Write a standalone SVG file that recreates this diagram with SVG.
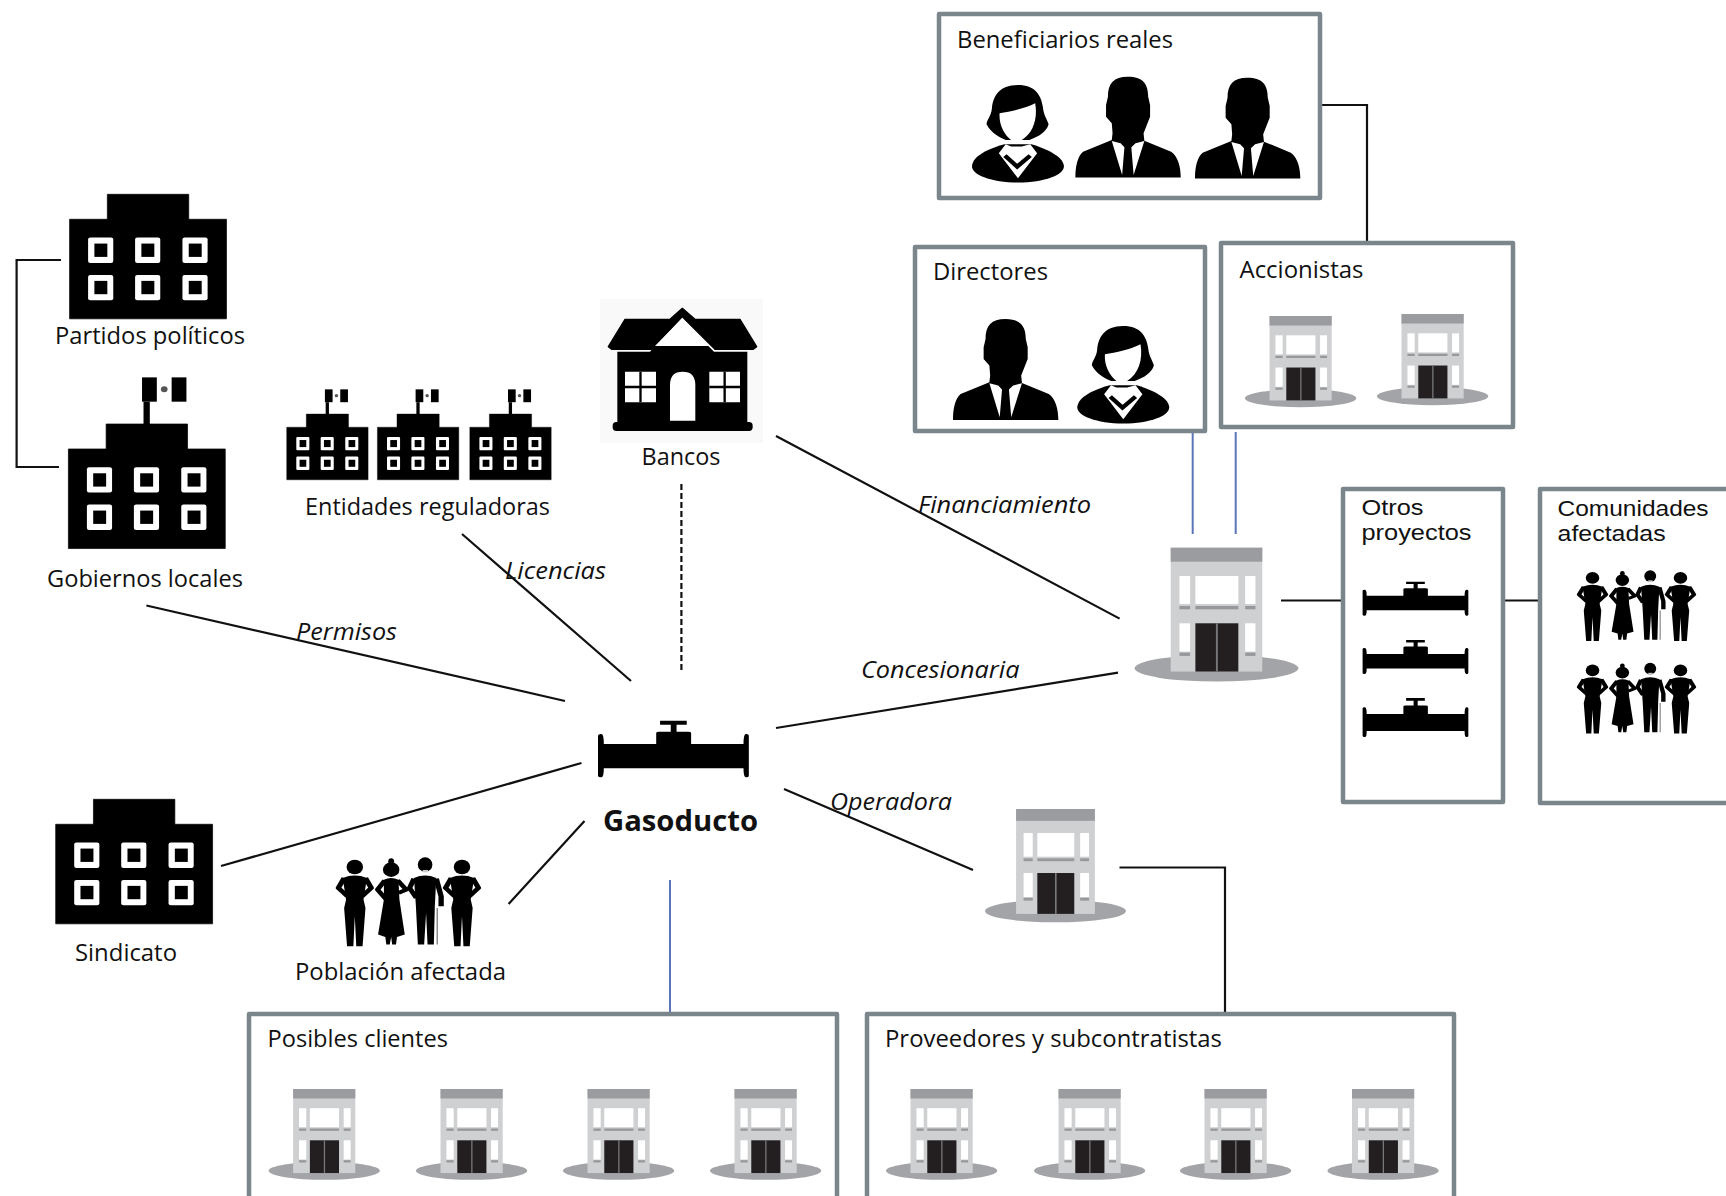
<svg xmlns="http://www.w3.org/2000/svg" xmlns:xlink="http://www.w3.org/1999/xlink" width="1726" height="1196" viewBox="0 0 1726 1196">
<style>
text{font-family:"Open Sans","Noto Sans","Liberation Sans",sans-serif;font-size:23px;fill:#111}
text.tight{font-family:"Liberation Sans",sans-serif;font-size:21.500px}
.lab{font-style:italic}
.bold{font-weight:700;font-size:28px}
.box{fill:#fff;stroke:#7a868b;stroke-width:4.5;stroke-linejoin:round}
.ln{fill:none;stroke:#111;stroke-width:2.2}
.blue{fill:none;stroke:#5a76b8;stroke-width:2}
.arm{fill:none;stroke:#000;stroke-width:11;stroke-linejoin:round}
</style>
<defs>
<g id="corp">
<ellipse cx="215.500" cy="362" rx="215.500" ry="40" fill="#a3a4a7"/>
<rect x="95" y="0" width="241" height="372" fill="#cfd0d2"/>
<rect x="95" y="0" width="241" height="42" fill="#9b9c9f"/>
<rect x="118" y="85" width="28" height="84" fill="#fff"/><rect x="160" y="85" width="113" height="84" fill="#fff"/><rect x="291" y="85" width="27" height="84" fill="#fff"/>
<rect x="118" y="175" width="28" height="10" fill="#97989b"/><rect x="160" y="175" width="113" height="10" fill="#97989b"/><rect x="291" y="175" width="27" height="10" fill="#97989b"/>
<rect x="118" y="227" width="28" height="85" fill="#fff"/><rect x="291" y="227" width="27" height="85" fill="#fff"/>
<rect x="118" y="315" width="28" height="10" fill="#97989b"/><rect x="291" y="315" width="27" height="10" fill="#97989b"/>
<rect x="160" y="227" width="113" height="145" fill="#231f20"/><rect x="214" y="227" width="5" height="145" fill="#77787b"/>
</g>
<g id="inst">
<path d="M102 0H322V75H424V374H0V75H102Z" fill="#000" stroke="#000" stroke-width="2" stroke-linejoin="round"/>
<g id="win"><rect x="50" y="130" width="68" height="76" rx="6" fill="#fff"/><rect x="67" y="148" width="35" height="40" fill="#000"/></g>
<use xlink:href="#win" x="127"/><use xlink:href="#win" x="255"/>
<use xlink:href="#win" y="112"/><use xlink:href="#win" x="127" y="112"/><use xlink:href="#win" x="255" y="112"/>
</g>
<g id="flag">
<rect x="203" y="-67" width="17" height="67" fill="#000"/><rect x="199" y="-140" width="40" height="73" fill="#000"/><rect x="279" y="-140" width="40" height="73" fill="#000"/><circle cx="259" cy="-104" r="9" fill="#555"/>
</g>
<path id="pipe" d="M0 45Q0 40 6 40H7Q12 40 12 70H120V37Q120 33 126 33H186Q192 33 192 37V70H300Q300 40 305 40H306Q311 40 311 45V165Q311 170 306 170H305Q300 170 300 143H12Q12 170 7 170H6Q0 170 0 165ZM150 33V12H128V0H183V12H162V33Z" fill="#000"/>
<g id="man">
<path d="M137 0C100 0 85 20 85 60L80 85V120L95 140L97 170L95 190L20 225C5 240 0 270 0 303H275C275 270 268 240 250 225L180 192L178 170L195 120V85L190 60C190 20 175 0 137 0Z" fill="#000"/>
<path d="M95 193L122 295L128 212L118 200ZM180 193L152 295L146 212L157 200Z" fill="#fff"/>
</g>
<g id="woman">
<path d="M120 0C70 0 55 35 52 70C50 95 38 105 38 118C50 145 75 160 88 165H150C175 155 195 140 200 118C195 100 187 90 185 65C180 30 165 0 120 0Z" fill="#000"/>
<path d="M72 85C100 80 140 70 165 55C172 100 160 145 130 165V185H102V165C85 150 70 120 72 85Z" fill="#fff"/>
<path d="M85 178C30 195 0 220 0 245C0 270 50 293 120 293C190 293 240 270 240 245C240 220 205 195 155 178Z" fill="#000"/>
<path d="M70 205L88 178L102 185H130L152 178L170 205L120 280Z" fill="#fff"/>
<path d="M86 212L118 245L152 212" fill="none" stroke="#000" stroke-width="12"/>
</g>
<g id="people">
<g id="pm" transform="translate(-630 -472)">
<ellipse cx="670" cy="502" rx="17" ry="22" fill="#000"/>
<path d="M645 535Q670 520 695 535L688 600L692 625L686 740H673L670 650L667 740H654L648 625L652 600Z" fill="#000"/>
<path class="arm" d="M648 535L636 565L655 590M692 535L704 565L685 590"/>
</g>
<g transform="translate(-630 -472)">
<ellipse cx="745" cy="510" rx="17" ry="22" fill="#000"/><ellipse cx="745" cy="485" rx="6" ry="9" fill="#000"/>
<path d="M730 540Q745 530 760 540L762 600L773 705L757 712L755 735H747L745 712L742 735H735L733 712L718 705L730 600Z" fill="#000"/>
<path class="arm" d="M732 542L717 570L735 600M758 542L776 570L760 580"/>
<ellipse cx="815" cy="495" rx="15" ry="22" fill="#000"/><rect x="810" y="511" width="11" height="7" fill="#ccc"/>
<path d="M792 535Q815 520 838 535L835 620L833 735H820L817 640L813 735H800L796 620Z" fill="#000"/>
<path class="arm" d="M792 537L783 565L797 595M838 537L848 590V620"/>
<path d="M840 625V735" stroke="#888" stroke-width="3" fill="none"/>
</g>
<use xlink:href="#pm" x="221"/>
</g>
</defs>

<g id="connectors">
<path class="ln" d="M61 260H16.600V467H59"/>
<path class="ln" d="M1320 105H1367V241"/>
<path class="blue" d="M1192.700 432V534M1235.700 432V534M670 880V1014"/>
<path class="ln" d="M1281 600.500H1343M1501 600.500H1539"/>
<path class="ln" d="M776 436L1119.600 618.600M776 728L1118 672.600M784 789L973 870"/>
<path class="ln" d="M1119.500 867.500H1225V1012"/>
<path class="ln" stroke-dasharray="6 3" d="M681.400 484V671.500"/>
<path class="ln" d="M462 534L631 681M146.400 605.500L565 701M221 866L581.500 763M508.600 904L584.500 821"/>
</g>

<g id="beneficiarios">
<rect class="box" x="939" y="14" width="381" height="184"/>
<text x="957" y="48" textLength="216" lengthAdjust="spacingAndGlyphs">Beneficiarios reales</text>
<use xlink:href="#woman" transform="translate(972 85) scale(.383 .333)"/>
<use xlink:href="#man" transform="translate(1075.400 76.700) scale(.383 .333)"/>
<use xlink:href="#man" transform="translate(1195 77.700) scale(.383 .333)"/>
</g>
<g id="directores">
<rect class="box" x="915" y="247" width="290" height="184"/>
<text x="933" y="280" textLength="115" lengthAdjust="spacingAndGlyphs">Directores</text>
<use xlink:href="#man" transform="translate(953 319) scale(.383 .333)"/>
<use xlink:href="#woman" transform="translate(1077.300 326) scale(.383 .333)"/>
</g>
<g id="accionistas">
<rect class="box" x="1221" y="243" width="292" height="184"/>
<text x="1239.500" y="277.500" textLength="124" lengthAdjust="spacingAndGlyphs">Accionistas</text>
<use xlink:href="#corp" transform="translate(1245 316) scale(.258 .227)"/>
<use xlink:href="#corp" transform="translate(1377 314) scale(.258 .227)"/>
</g>
<g id="partidos">
<use xlink:href="#inst" transform="translate(69.600 194.300) scale(.37 .333)"/>
<text x="55" y="344" textLength="190" lengthAdjust="spacingAndGlyphs">Partidos políticos</text>
</g>
<g id="gobiernos">
<use xlink:href="#flag" transform="translate(68.400 424) scale(.37 .333)"/>
<use xlink:href="#inst" transform="translate(68.400 424) scale(.37 .333)"/>
<text x="47" y="587" textLength="196" lengthAdjust="spacingAndGlyphs">Gobiernos locales</text>
</g>
<g id="entidades">
<use xlink:href="#flag" transform="translate(286.700 414) scale(.192 .176)"/>
<use xlink:href="#inst" transform="translate(286.700 414) scale(.192 .176)"/>
<use xlink:href="#flag" transform="translate(377.400 414) scale(.192 .176)"/>
<use xlink:href="#inst" transform="translate(377.400 414) scale(.192 .176)"/>
<use xlink:href="#flag" transform="translate(469.800 414) scale(.192 .176)"/>
<use xlink:href="#inst" transform="translate(469.800 414) scale(.192 .176)"/>
<text x="305" y="515" textLength="245" lengthAdjust="spacingAndGlyphs">Entidades reguladoras</text>
</g>
<g id="bancos">
<rect x="600" y="299" width="163" height="144" fill="#f9f9f9"/>
<g transform="translate(590 290) scale(.3333)">
<path d="M55 170L105 88H240L277 55L315 88H450L500 170L490 178H375L277 80L185 178H65Z" fill="#000" stroke="#000" stroke-width="4" stroke-linejoin="round"/>
<path d="M277 85L357 168H195Z" fill="#fff"/>
<path d="M82 185H180L195 168H355L372 185H472V398H82Z" fill="#000"/>
<rect x="68" y="396" width="420" height="27" rx="11" fill="#000"/>
<path d="M105 245H198V337H105ZM358 245H450V337H358ZM240 392V285Q240 245 278 245Q316 245 316 285V392Z" fill="#fff"/>
<path d="M151.500 245V337M105 291H198M404 245V337M358 291H450" stroke="#000" stroke-width="7"/>
</g>
<text x="641.500" y="465" textLength="79" lengthAdjust="spacingAndGlyphs">Bancos</text>
</g>
<g id="gasoducto">
<use xlink:href="#pipe" transform="translate(598 720.700) scale(.485 .333)"/>
<text class="bold" x="603" y="831" textLength="155" lengthAdjust="spacingAndGlyphs">Gasoducto</text>
</g>
<g id="concesionaria">
<use xlink:href="#corp" transform="translate(1134.600 547.700) scale(.38 .333)"/>
</g>
<g id="otros">
<rect class="box" x="1343" y="489" width="160" height="313"/>
<text class="tight" x="1361.500" y="515" textLength="62" lengthAdjust="spacingAndGlyphs">Otros</text>
<text class="tight" x="1361.500" y="540" textLength="110" lengthAdjust="spacingAndGlyphs">proyectos</text>
<use xlink:href="#pipe" transform="translate(1362.600 581.700) scale(.34 .2)"/>
<use xlink:href="#pipe" transform="translate(1362.600 640) scale(.34 .2)"/>
<use xlink:href="#pipe" transform="translate(1362.600 698) scale(.34 .23)"/>
</g>
<g id="comunidades">
<rect class="box" x="1540" y="489" width="200" height="314"/>
<text class="tight" x="1557.600" y="516" textLength="151" lengthAdjust="spacingAndGlyphs">Comunidades</text>
<text class="tight" x="1557.600" y="541" textLength="108" lengthAdjust="spacingAndGlyphs">afectadas</text>
<use xlink:href="#people" transform="translate(1576.600 570) scale(.398 .265)"/>
<use xlink:href="#people" transform="translate(1576.600 662.500) scale(.398 .265)"/>
</g>
<g id="operadora">
<use xlink:href="#corp" transform="translate(985 809) scale(.327 .282)"/>
</g>
<g id="sindicato">
<use xlink:href="#inst" transform="translate(55.700 799.300) scale(.37 .333)"/>
<text x="75" y="961" textLength="102" lengthAdjust="spacingAndGlyphs">Sindicato</text>
</g>
<g id="poblacion">
<use xlink:href="#people" transform="translate(335.400 857) scale(.485 .333)"/>
<text x="295" y="980" textLength="211" lengthAdjust="spacingAndGlyphs">Población afectada</text>
</g>
<g id="clientes">
<rect class="box" x="249" y="1014" width="588" height="190"/>
<text x="267.500" y="1047" textLength="180.500" lengthAdjust="spacingAndGlyphs">Posibles clientes</text>
<use xlink:href="#corp" transform="translate(268.600 1089) scale(.258 .226)"/>
<use xlink:href="#corp" transform="translate(416 1089) scale(.258 .226)"/>
<use xlink:href="#corp" transform="translate(563 1089) scale(.258 .226)"/>
<use xlink:href="#corp" transform="translate(710 1089) scale(.258 .226)"/>
</g>
<g id="proveedores">
<rect class="box" x="867" y="1014" width="587" height="190"/>
<text x="885" y="1047" textLength="337" lengthAdjust="spacingAndGlyphs">Proveedores y subcontratistas</text>
<use xlink:href="#corp" transform="translate(886 1089) scale(.258 .226)"/>
<use xlink:href="#corp" transform="translate(1034 1089) scale(.258 .226)"/>
<use xlink:href="#corp" transform="translate(1180 1089) scale(.258 .226)"/>
<use xlink:href="#corp" transform="translate(1327.500 1089) scale(.258 .226)"/>
</g>
<g id="labels">
<text class="lab" x="918" y="513" textLength="173" lengthAdjust="spacingAndGlyphs">Financiamiento</text>
<text class="lab" x="505" y="579" textLength="101" lengthAdjust="spacingAndGlyphs">Licencias</text>
<text class="lab" x="296" y="640" textLength="101" lengthAdjust="spacingAndGlyphs">Permisos</text>
<text class="lab" x="861" y="678" textLength="158.500" lengthAdjust="spacingAndGlyphs">Concesionaria</text>
<text class="lab" x="830" y="810" textLength="122" lengthAdjust="spacingAndGlyphs">Operadora</text>
</g>
</svg>
